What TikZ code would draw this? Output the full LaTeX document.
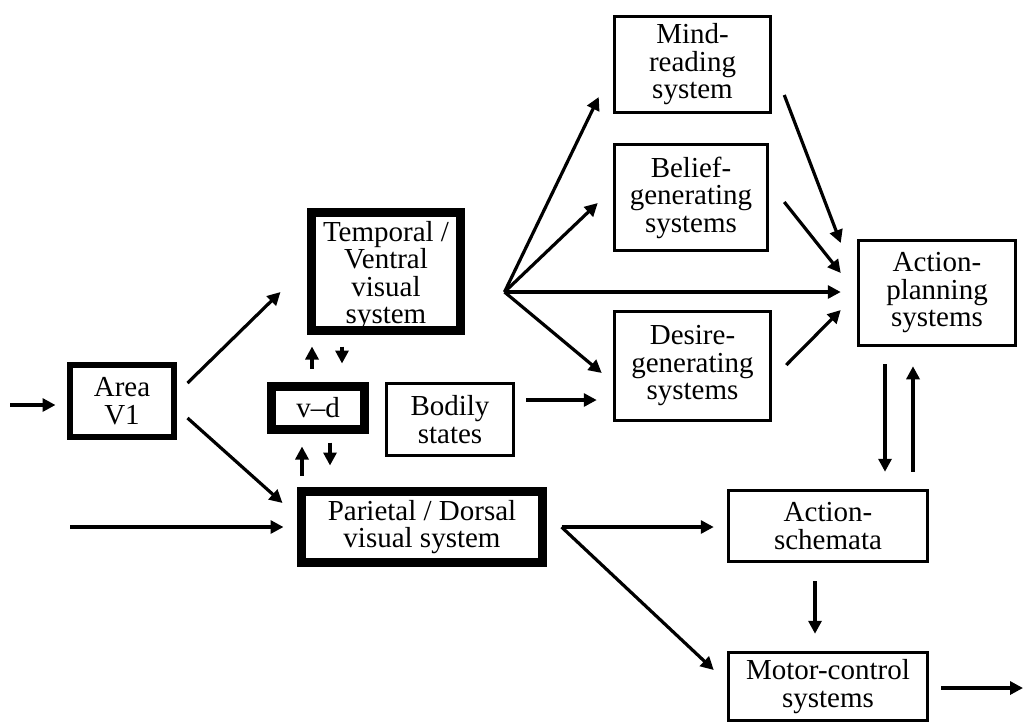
\documentclass[tikz,border=0pt]{standalone}
\usepackage{fontspec}
\setmainfont{Liberation Serif}
\usetikzlibrary{arrows.meta,calc}
\begin{document}
\begin{tikzpicture}[x=1pt,y=-1pt,
  lbl/.style={font=\fontsize{29}{27.5}\selectfont, align=center, inner sep=0pt},
  thinbox/.style={lbl, draw, line width=3pt},
  heavybox/.style={lbl, draw, line width=9pt},
  arr/.style={line width=3.2pt, -{Triangle[length=13pt,width=13pt]}},
]
\fill[white] (0,0) rectangle (1024,724);
\useasboundingbox (0,0) rectangle (1024,724);

% visual areas
\node[lbl, draw, line width=5.5pt, minimum width=104.5pt, minimum height=72.5pt] (area) at (122,401) {Area\\V1};
\draw[line width=1.8pt] ([shift={(5.5pt,-5.5pt)}]area.north west) rectangle ([shift={(-5.5pt,5.5pt)}]area.south east);
\node[heavybox, minimum width=149pt, minimum height=118pt] (temporal) at (386,271.5) {};
\node[lbl] (temporaltext) at ($(temporal.center)+(0,4)$) {Temporal /\\Ventral\\visual\\system};
\node[heavybox, minimum width=93pt, minimum height=43pt] (vd) at (318,408) {v--d};
\node[heavybox, minimum width=241pt, minimum height=71pt] (parietal) at (422,527) {Parietal / Dorsal\\visual system};
\node[thinbox, minimum width=127pt, minimum height=72pt] (bodily) at (450,419.5) {Bodily\\states};

% central systems
\node[thinbox, minimum width=156pt, minimum height=96pt] (mind) at (692.5,64.5) {Mind-\\reading\\system};
\node[thinbox, minimum width=153pt, minimum height=106pt] (belief) at (691,197.5) {Belief-\\generating\\systems};
\node[thinbox, minimum width=156pt, minimum height=109pt] (desire) at (692.5,366) {Desire-\\generating\\systems};
\node[thinbox, minimum width=157pt, minimum height=105pt] (actplan) at (937,293) {Action-\\planning\\systems};
\node[thinbox, minimum width=199pt, minimum height=71pt] (schem) at (828,526) {Action-\\schemata};
\node[thinbox, minimum width=199pt, minimum height=68pt] (motor) at (828,686.5) {Motor-control\\systems};

% free ends and branch points
\coordinate (inA) at (10,405);
\coordinate (inB) at (70,527);
\coordinate (out) at (1023,688);
\coordinate (fanT) at ($(temporal.east)+(39.5,20.5)$);
\coordinate (fanP) at ($(parietal.east)+(14.5,0)$);

% inputs
\draw[arr] (inA) -- ($(area.west)+(-11.5,4)$);
\draw[arr] (inB) -- ($(parietal.west)+(-13.5,0)$);
\draw[arr] ($(area.east)+(10.5,-18)$) -- ($(temporal.west)+(-26.5,20.5)$);
\draw[arr] ($(area.east)+(10.5,17)$) -- ($(parietal.west)+(-14.5,-24)$);

% exchanges through v-d
\draw[arr] ($(vd.north)+(-6,-13.5)$) -- ($(temporal.south)+(-74,11.5)$);
\draw[arr] ($(temporal.south)+(-44,11.5)$) -- ($(vd.north)+(24,-18.5)$);
\draw[arr] ($(parietal.north)+(-120,-11.5)$) -- ($(vd.south)+(-16,12.5)$);
\draw[arr] ($(vd.south)+(12,8.5)$) -- ($(parietal.north)+(-92,-21.5)$);

% ventral fan-out
\draw[arr] (fanT) -- ($(mind.west)+(-14.25,32.5)$);
\draw[arr] (fanT) -- ($(belief.west)+(-15.25,5.5)$);
\draw[arr] (fanT) -- ($(actplan.west)+(-16.25,-1)$);
\draw[arr] (fanT) -- ($(desire.west)+(-11.25,7)$);
\draw[arr] ($(bodily.east)+(11.25,-19.5)$) -- ($(desire.west)+(-16.25,34)$);

% into action planning
\draw[arr] ($(mind.east)+(12.25,30.5)$) -- ($(actplan.west)+(-16.25,-50)$);
\draw[arr] ($(belief.east)+(15.25,4.5)$) -- ($(actplan.west)+(-16.25,-20)$);
\draw[arr] ($(desire.east)+(14.25,-1)$) -- ($(actplan.west)+(-16.25,17)$);
\draw[arr] ($(actplan.south)+(-52,17.25)$) -- ($(schem.north)+(57,-17.25)$);
\draw[arr] ($(schem.north)+(85,-17.25)$) -- ($(actplan.south)+(-24,19.25)$);

% dorsal route to action
\draw[arr] (fanP) -- ($(schem.west)+(-13.25,1)$);
\draw[arr] (fanP) -- ($(motor.west)+(-13.25,-16.5)$);
\draw[arr] ($(schem.south)+(-13,18.25)$) -- ($(motor.north)+(-13,-17.25)$);
\draw[arr] ($(motor.east)+(12.25,1.5)$) -- (out);
\end{tikzpicture}
\end{document}
